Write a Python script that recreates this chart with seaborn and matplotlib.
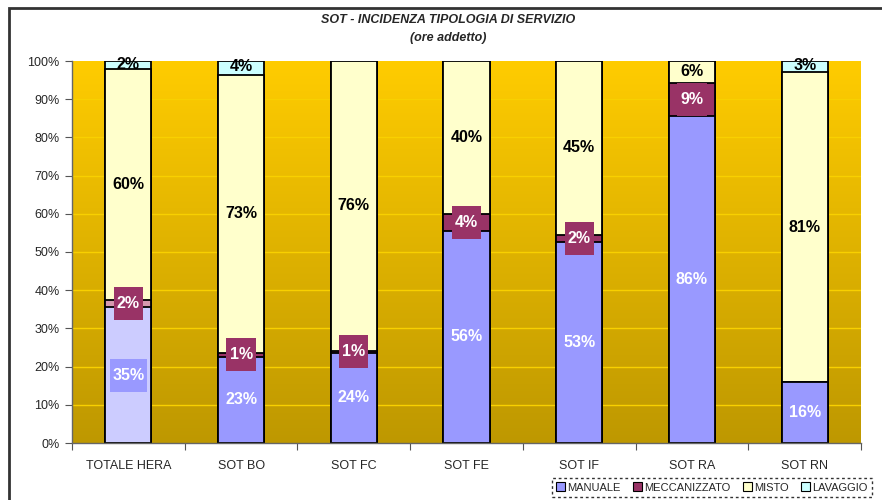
import numpy as np
import pandas as pd
import matplotlib
matplotlib.use("Agg")
import matplotlib.pyplot as plt
from matplotlib.patches import Rectangle, Patch
import seaborn as sns

categories = ['TOTALE HERA', 'SOT BO', 'SOT FC', 'SOT FE', 'SOT IF', 'SOT RA', 'SOT RN']
manuale = [35.5, 22.6, 23.6, 55.6, 52.6, 85.7, 16.0]
meccanizzato = [2.0, 1.0, 0.6, 4.4, 1.9, 8.6, 0.0]
misto = [60.3, 72.7, 75.8, 40.0, 45.5, 5.7, 81.0]
lavaggio = [2.2, 3.7, 0.0, 0.0, 0.0, 0.0, 3.0]
labels_man = ['35%', '23%', '24%', '56%', '53%', '86%', '16%']
labels_mec = ['2%', '1%', '1%', '4%', '2%', '9%', '']
labels_mis = ['60%', '73%', '76%', '40%', '45%', '6%', '81%']
labels_lav = ['2%', '4%', '', '', '', '', '3%']
series_names = ['MANUALE', 'MECCANIZZATO', 'MISTO', 'LAVAGGIO']
series_colors = ['#9999FF', '#993366', '#FFFFCC', '#CCFFFF']

df = pd.DataFrame({'cat': categories, 'man': manuale, 'mec': meccanizzato,
                   'mis': misto, 'lav': lavaggio})
df['c1'] = df['man']
df['c2'] = df['c1'] + df['mec']
df['c3'] = df['c2'] + df['mis']
df['c4'] = df['c3'] + df['lav']

sns.set_style("white")
plt.rcParams['font.family'] = ['Liberation Sans', 'DejaVu Sans']

fig = plt.figure(figsize=(8.82, 5), dpi=100)
ax = fig.add_axes([72/882, 57/500, (861-72)/882, (443-61)/500])

# gradient background
top = np.array([255, 204, 0]) / 255
bot = np.array([190, 152, 0]) / 255
t = np.linspace(0, 1, 256)[:, None]
grad = (top[None, :] * t + bot[None, :] * (1 - t))[:, None, :]
ax.imshow(grad, extent=[-0.5, len(categories) - 0.5, 0, 100], origin='lower',
          aspect='auto', zorder=0)
for yv in range(10, 100, 10):
    ax.axhline(yv, color='#F8D000', lw=1, zorder=0.5)

width = 0.41
for col, color in zip(['c4', 'c3', 'c2', 'c1'], series_colors[::-1]):
    sns.barplot(data=df, x='cat', y=col, color=color, width=width,
                edgecolor='black', linewidth=1.3, saturation=1, ax=ax, zorder=2)

# lighter first bar (TOTALE HERA)
cont = ax.containers
cont[3].patches[0].set_facecolor('#CCCCFF')
cont[2].patches[0].set_facecolor('#D699AF')


def label_box(x, y, txt, fc):
    # box behind a data label, in data units (~29-37 px wide, 33 px high)
    w = 0.26 if len(txt) <= 2 else 0.33
    h = 8.6
    ax.add_patch(Rectangle((x - w / 2, y - h / 2), w, h, fc=fc, ec='none', zorder=4))


lbl = dict(ha='center', va='center', fontsize=11.5, fontweight='bold', zorder=5)
for i in range(len(categories)):
    r = df.iloc[i]
    if labels_man[i]:
        y = r['c1'] / 2
        if i == 0:
            label_box(i, y, labels_man[i], '#9999FF')
        ax.text(i, y, labels_man[i], color='white', **lbl)
    if labels_mec[i]:
        y = (r['c1'] + r['c2']) / 2
        label_box(i, y, labels_mec[i], '#993366')
        ax.text(i, y, labels_mec[i], color='white', **lbl)
    if labels_mis[i]:
        ax.text(i, (r['c2'] + r['c3']) / 2, labels_mis[i], color='black', **lbl)
    if labels_lav[i]:
        ax.text(i, (r['c3'] + r['c4']) / 2 + 0.3, labels_lav[i], color='black', **lbl)

ax.set_xlim(-0.5, len(categories) - 0.5)
ax.set_ylim(0, 100)
ax.set_yticks(range(0, 101, 10))
ax.set_yticklabels([f'{v}%' for v in range(0, 101, 10)], fontsize=9)
ax.set_xticks(np.arange(-0.5, len(categories), 1))
ax.set_xticklabels([])
ax.set_xticks(range(len(categories)), minor=True)
ax.set_xticklabels(categories, minor=True, fontsize=9)
ax.tick_params(axis='x', which='major', length=5, color='#555555', direction='out', bottom=True)
ax.tick_params(axis='x', which='minor', length=0, pad=12)
ax.tick_params(axis='y', length=5, color='#555555', direction='out', left=True, pad=4)
ax.set_xlabel('')
ax.set_ylabel('')
for s in ['top', 'right']:
    ax.spines[s].set_visible(False)
for s in ['left', 'bottom']:
    ax.spines[s].set_color('#666666')
    ax.spines[s].set_linewidth(1)
    ax.spines[s].set_zorder(3)

fig.text(0.508, 0.96, 'SOT - INCIDENZA TIPOLOGIA DI SERVIZIO', ha='center', va='center',
         fontsize=9, fontweight='bold', fontstyle='italic')
fig.text(0.508, 0.924, '(ore addetto)', ha='center', va='center',
         fontsize=9, fontweight='bold', fontstyle='italic')

# outer chart border
fig.patches.append(Rectangle((9/882, -0.1), 1.1, 1 - 8/500 + 0.1, transform=fig.transFigure,
                             fill=False, ec='#333333', lw=2))

handles = [Patch(fc=c, ec='black', lw=0.8) for c in series_colors]
leg = fig.legend(handles, series_names, loc='upper left', bbox_to_anchor=(552/882, 1 - 478/500),
                 ncol=4, fontsize=8, frameon=True, fancybox=False, handlelength=0.8,
                 handleheight=0.8, handletextpad=0.2, columnspacing=1.1, borderpad=0.4,
                 borderaxespad=0)
leg.get_frame().set_edgecolor('black')
leg.get_frame().set_linestyle((0, (2, 2)))
leg.get_frame().set_linewidth(1)

fig.savefig('out.png', dpi=100)
